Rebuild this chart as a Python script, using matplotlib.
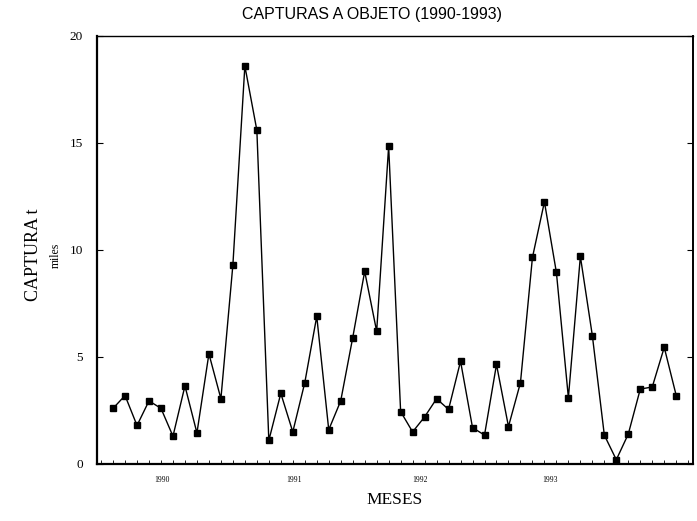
import matplotlib
matplotlib.use("Agg")
import matplotlib.pyplot as plt
import numpy as np
from matplotlib.ticker import MultipleLocator

# ── Datos: capturas mensuales (miles de t), ene-1990 a dic-1993 ────────────
captura = [
    2.6, 3.2, 1.8, 2.95, 2.6, 1.3, 3.65, 1.45, 5.15, 3.05, 9.3, 18.6,
    15.6, 1.1, 3.3, 1.5, 3.8, 6.9, 1.6, 2.95, 5.9, 9.0, 6.2, 14.85,
    2.45, 1.5, 2.2, 3.05, 2.55, 4.8, 1.7, 1.35, 4.65, 1.75, 3.8, 9.65,
    12.25, 8.95, 3.1, 9.7, 6.0, 1.35, 0.2, 1.4, 3.5, 3.6, 5.45, 3.2,
]
meses = np.arange(1, len(captura) + 1)

year_labels = ["1990", "1991", "1992", "1993"]
year_pos = [5.1, 16.1, 26.6, 37.5]
y_ticks = [0, 5, 10, 15, 20]

SERIF = "Liberation Serif"
SANS = "Liberation Sans"

fig = plt.figure(figsize=(6.97, 5.21), dpi=100)
ax = fig.add_axes([97 / 697, 1 - 464 / 521, 596 / 697, 428 / 521])

ax.plot(meses, captura, color="black", linewidth=1.0,
        marker="s", markersize=5, markerfacecolor="black",
        markeredgecolor="black")

ax.set_xlim(-0.34, 49.4)
ax.set_ylim(0, 20)

ax.set_yticks(y_ticks)
ax.set_yticklabels([str(v) for v in y_ticks], fontfamily=SERIF, fontsize=9.5)
ax.set_xticks(year_pos)
ax.set_xticklabels(year_labels, fontfamily=SERIF, fontsize=5.5)
ax.xaxis.set_minor_locator(MultipleLocator(1))
ax.tick_params(axis="x", which="major", direction="in", length=0, pad=9)
ax.tick_params(axis="x", which="minor", direction="in", length=3, width=0.6)
ax.tick_params(axis="y", which="major", direction="in", length=4, width=0.8,
               pad=10, right=True)

for side, lw in [("left", 1.6), ("bottom", 1.6), ("top", 1.0), ("right", 1.4)]:
    ax.spines[side].set_linewidth(lw)

fig.text(372 / 697, 1 - 15 / 521, "CAPTURAS A OBJETO (1990-1993)",
         ha="center", va="center", fontfamily=SANS, fontsize=11.5)
fig.text(395 / 697, 1 - 500 / 521, "MESES",
         ha="center", va="center", fontfamily=SERIF, fontsize=12.5)
fig.text(34 / 697, 1 - 255 / 521, "CAPTURA t", rotation=90,
         ha="center", va="center", fontfamily=SERIF, fontsize=13)
fig.text(56 / 697, 1 - 255 / 521, "miles", rotation=90,
         ha="center", va="center", fontfamily=SERIF, fontsize=8.5)

fig.savefig("out.png", dpi=100)
